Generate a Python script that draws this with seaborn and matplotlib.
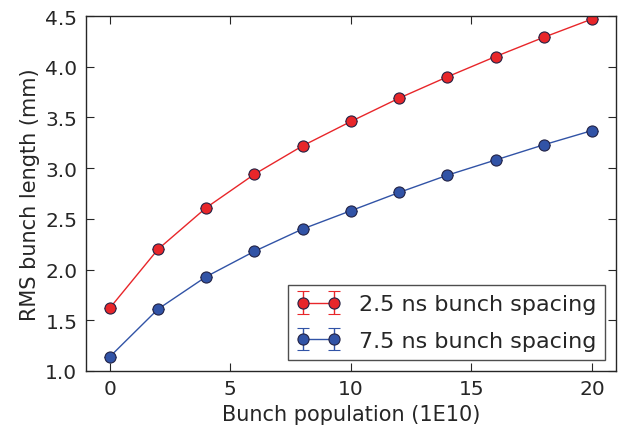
import numpy as np
import matplotlib
matplotlib.use("Agg")
import matplotlib.pyplot as plt
import seaborn as sns

# data
population = [0, 2, 4, 6, 8, 10, 12, 14, 16, 18, 20]
length_25ns = [1.62, 2.20, 2.61, 2.94, 3.22, 3.46, 3.69, 3.90, 4.10, 4.29, 4.47]
length_75ns = [1.14, 1.61, 1.93, 2.18, 2.40, 2.58, 2.76, 2.93, 3.08, 3.23, 3.37]
err_25ns = [0.0] * len(population)
err_75ns = [0.0] * len(population)
labels = ['2.5 ns bunch spacing', '7.5 ns bunch spacing']

sns.set_style("ticks")
plt.rcParams['font.family'] = ['DejaVu Sans']
plt.rcParams['font.size'] = 14

fig, ax = plt.subplots(figsize=(6.21, 4.31), dpi=100)

series = [(length_25ns, err_25ns, '#e8262a', labels[0]),
          (length_75ns, err_75ns, '#3153a6', labels[1])]
for vals, err, col, lab in series:
    ax.errorbar(population, vals, yerr=err, color=col, marker='o', markersize=8,
                markeredgecolor='#222244', markeredgewidth=0.8, linewidth=1.0,
                capsize=4, label=lab)

ax.set_xlim(-1, 21)
ax.set_ylim(1.0, 4.5)
ax.set_xticks([0, 5, 10, 15, 20])
ax.set_yticks(np.arange(1.0, 4.51, 0.5))
ax.set_xlabel('Bunch population (1E10)', fontsize=15, color='#262626')
ax.set_ylabel('RMS bunch length (mm)', fontsize=15, color='#262626')
ax.tick_params(direction='in', top=True, right=True, labelsize=14.5,
               length=6, width=0.8, colors='#262626', pad=6)
for sp in ax.spines.values():
    sp.set_color('#262626')
    sp.set_linewidth(1.0)

leg = ax.legend(loc='lower right', numpoints=2, fancybox=False, fontsize=16,
                borderaxespad=0.5, handlelength=2.0, labelspacing=0.75)
leg.get_frame().set_edgecolor('#222222')
leg.get_frame().set_linewidth(1.0)

fig.subplots_adjust(left=0.138, right=0.992, top=0.9605, bottom=0.137)
fig.savefig('out.png', dpi=100)
